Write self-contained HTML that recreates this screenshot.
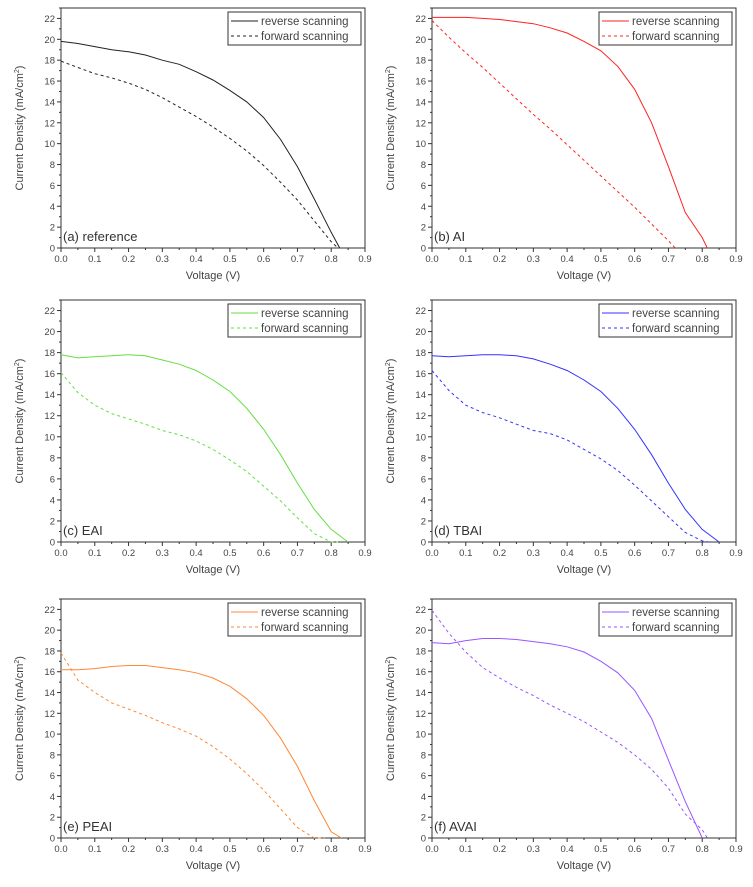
<!DOCTYPE html>
<html><head><meta charset="utf-8"><style>
body{margin:0;background:#fff;}
svg{display:block;font-family:"Liberation Sans",sans-serif;}
</style></head><body>
<svg id="fig" width="753" height="887"></svg>
<script>
const Vgrid=[0,0.05,0.1,0.15,0.2,0.25,0.3,0.35,0.4,0.45,0.5,0.55,0.6,0.65,0.7,0.75,0.8];
const labels=["(a) reference","(b) AI","(c) EAI","(d) TBAI","(e) PEAI","(f) AVAI"];
const colors=["#222222","#ff2222","#66dd44","#3333ff","#ff8833","#9955ff"];
const revA=[19.8,19.6,19.3,19.0,18.8,18.5,18.0,17.6,16.9,16.1,15.1,14.0,12.5,10.4,7.8,4.7,1.5];
const fwdA=[17.9,17.3,16.7,16.3,15.8,15.2,14.4,13.5,12.6,11.6,10.5,9.3,7.9,6.3,4.6,2.6,0.6];
const revB=[22.1,22.1,22.1,22.0,21.9,21.7,21.5,21.1,20.6,19.8,18.9,17.4,15.2,12.0,7.8,3.4,1.0];
const fwdB=[21.8,20.2,18.7,17.3,15.8,14.3,12.8,11.4,9.9,8.4,6.9,5.4,3.9,2.3,0.7];
const revC=[17.8,17.5,17.6,17.7,17.8,17.7,17.3,16.9,16.3,15.4,14.3,12.7,10.7,8.3,5.6,3.1,1.2];
const fwdC=[16.1,14.2,13.0,12.2,11.7,11.2,10.6,10.2,9.6,8.8,7.8,6.7,5.3,3.9,2.3,0.8,0];
const revD=[17.7,17.6,17.7,17.8,17.8,17.7,17.4,16.9,16.3,15.4,14.3,12.7,10.7,8.3,5.6,3.1,1.2];
const fwdD=[16.3,14.4,13.0,12.3,11.8,11.2,10.6,10.3,9.7,8.8,7.9,6.8,5.4,3.9,2.4,0.9,0.1];
const revE=[16.2,16.2,16.3,16.5,16.6,16.6,16.4,16.2,15.9,15.4,14.6,13.4,11.8,9.6,6.9,3.6,0.6];
const fwdE=[17.8,15.2,14.0,13.0,12.4,11.8,11.1,10.5,9.8,8.8,7.6,6.2,4.6,2.8,1.0,0];
const revF=[18.8,18.7,19.0,19.2,19.2,19.1,18.9,18.7,18.4,17.9,17.0,15.9,14.2,11.5,7.5,3.5,0];
const fwdF=[21.9,19.7,17.9,16.4,15.4,14.5,13.7,12.8,12.0,11.2,10.2,9.2,8.0,6.6,4.8,2.3,0.8];
const vocRev=[0.825,0.815,0.85,0.85,0.83,0.80];
const vocFwd=[0.82,0.72,0.82,0.82,0.78,0.815];
const revAll=[revA,revB,revC,revD,revE,revF];
const fwdAll=[fwdA,fwdB,fwdC,fwdD,fwdE,fwdF];
const yTicks=[0,2,4,6,8,10,12,14,16,18,20,22];
const xTicks=[0,0.1,0.2,0.3,0.4,0.5,0.6,0.7,0.8,0.9];

const NS="http://www.w3.org/2000/svg";
const fig=document.getElementById('fig');
function mk(tag,attrs,parent,text){const e=document.createElementNS(NS,tag);for(const k in attrs)e.setAttribute(k,attrs[k]);if(text!==undefined)e.textContent=text;parent.appendChild(e);return e;}
const lefts=[61,432],tops=[8,300,599],bottoms=[248,542,838],W=304;
const ids=["a","b","c","d","e","f"];
for(let p=0;p<6;p++){
  const L=lefts[p%2],T=tops[Math.floor(p/2)],B=bottoms[Math.floor(p/2)];
  const xs=v=>L+v/0.9*W, ys=j=>B-j/23*(B-T);
  const g=mk('g',{},fig);
  
  
  const fr=mk('rect',{x:L,y:T,width:W,height:B-T,fill:'none',stroke:'#333','stroke-width':1},g);
  
  
  for(let i=0;i<=23;i++){const y=ys(i);mk('line',{x1:L-(i%2?2:4),x2:L,y1:y,y2:y,stroke:'#333','stroke-width':1},g);}
  yTicks.forEach(t=>{const tx=mk('text',{x:L-6,y:ys(t)+3.5,'font-size':9.5,fill:'#444','text-anchor':'end'},g,String(t));
    
    });
  for(let i=0;i<=18;i++){const x=xs(i*0.05);mk('line',{x1:x,x2:x,y1:B,y2:B+(i%2?2:4),stroke:'#333','stroke-width':1},g);}
  xTicks.forEach(t=>{const tx=mk('text',{x:xs(t),y:B+14,'font-size':9.5,fill:'#444','text-anchor':'middle'},g,t.toFixed(1));
    
    });
  const xt=mk('text',{x:L+W/2,y:B+31,'font-size':11,fill:'#444','text-anchor':'middle'},g,'Voltage (V)');
  
  
  const cy=(T+B)/2, cx=L-38;
  const yt=mk('text',{x:cx,y:cy,'font-size':11,fill:'#444','text-anchor':'middle',transform:`rotate(-90 ${cx} ${cy})`},g);
  
  
  yt.appendChild(document.createTextNode('Current Density (mA/cm'));
  mk('tspan',{'font-size':7,dy:-4},yt,'2');
  mk('tspan',{dy:4},yt,')');
  const col=colors[p];
  function series(arr,voc,dash,name){
    let pts=arr.map((j,i)=>xs(Vgrid[i]).toFixed(1)+','+ys(j).toFixed(1));
    pts.push(xs(voc).toFixed(1)+','+ys(0).toFixed(1));
    const pl=mk('polyline',{points:pts.join(' '),fill:'none',stroke:col,'stroke-width':1,'stroke-dasharray':dash},g);
    
    
  }
  series(revAll[p],vocRev[p],'none','reverse-scan-line');
  series(fwdAll[p],vocFwd[p],'3,3','forward-scan-line');
  const lx=L+W-137, ly=T+4;
  const lg=mk('g',{},g);
  
  
  mk('rect',{x:lx,y:ly,width:133,height:33,fill:'#fff',stroke:'#333','stroke-width':1},lg);
  mk('line',{x1:lx+3,x2:lx+30,y1:ly+9,y2:ly+9,stroke:col,'stroke-width':1},lg);
  mk('line',{x1:lx+3,x2:lx+30,y1:ly+24,y2:ly+24,stroke:col,'stroke-width':1,'stroke-dasharray':'3,3'},lg);
  const t1=mk('text',{x:lx+33,y:ly+13,'font-size':11.5,fill:'#444'},lg,'reverse scanning');
  
  
  const t2=mk('text',{x:lx+33,y:ly+28,'font-size':11.5,fill:'#444'},lg,'forward scanning');
  
  
  const pl=mk('text',{x:L+2,y:B-7,'font-size':13,fill:'#333'},g,labels[p]);
  
  
}
</script>
</body></html>
